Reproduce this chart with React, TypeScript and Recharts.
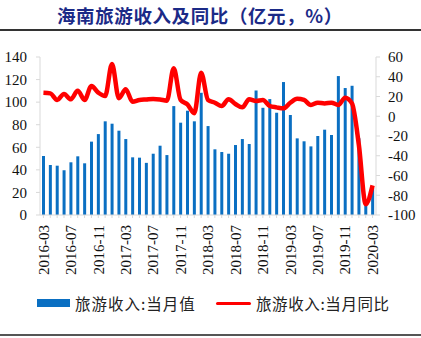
import React from 'react';
import { ComposedChart, Bar, Line, XAxis, YAxis } from 'recharts';

const months = [
  '2016-03', '2016-04', '2016-05', '2016-06', '2016-07', '2016-08', '2016-09', '2016-10', '2016-11', '2016-12',
  '2017-01', '2017-02', '2017-03', '2017-04', '2017-05', '2017-06', '2017-07', '2017-08', '2017-09', '2017-10',
  '2017-11', '2017-12', '2018-01', '2018-02', '2018-03', '2018-04', '2018-05', '2018-06', '2018-07', '2018-08',
  '2018-09', '2018-10', '2018-11', '2018-12', '2019-01', '2019-02', '2019-03', '2019-04', '2019-05', '2019-06',
  '2019-07', '2019-08', '2019-09', '2019-10', '2019-11', '2019-12', '2020-01', '2020-02', '2020-03',
];

// 旅游收入：当月值（亿元）
const revenue = [
  52.3, 44.3, 43.7, 39.6, 46.7, 52.0, 45.8, 65.0, 71.7, 83.0,
  80.9, 74.7, 67.3, 51.1, 50.8, 46.2, 54.3, 61.4, 53.1, 96.5,
  81.8, 92.4, 83.0, 108.3, 78.8, 58.2, 55.8, 54.3, 62.0, 67.3,
  62.9, 110.3, 95.0, 102.7, 90.6, 117.8, 88.6, 67.9, 65.3, 60.8,
  70.0, 75.6, 70.9, 123.1, 112.5, 114.5, 68.0, 12.0, 24.0,
];

// 旅游收入：当月同比（%）
const yoy = [
  23.9, 23.2, 16.5, 22.5, 17.2, 25.9, 16.5, 30.6, 23.9, 20.5,
  52.9, 18.2, 27.3, 14.7, 16.5, 17.0, 17.5, 17.0, 15.8, 48.5,
  16.5, 12.0, 3.0, 44.1, 16.5, 13.7, 10.4, 17.2, 12.4, 9.0,
  17.2, 15.5, 16.5, 10.4, 9.0, 8.0, 13.7, 17.8, 16.5, 11.4,
  13.7, 13.0, 13.7, 11.4, 18.8, 13.0, -29.0, -89.0, -70.0,
];

const leftTicks = [0, 20, 40, 60, 80, 100, 120, 140];
const rightTicks = [-100, -80, -60, -40, -20, 0, 20, 40, 60];

const data = months.map((m, i) => ({ month: m, revenue: revenue[i], yoy: yoy[i] }));

const serif = '"Liberation Serif", "Times New Roman", serif';
const cjk = '"Noto Sans CJK SC", sans-serif';

const MonthTick = (props: any) => {
  const { x, y, payload } = props;
  const idx = months.indexOf(payload.value);
  if (idx % 4 !== 0) return null;
  return (
    <text
      transform={`translate(${x},${y + 5}) rotate(-90)`}
      textAnchor="end"
      dy="0.35em"
      fontSize={15}
      fontFamily={serif}
      fill="#111"
    >
      {payload.value}
    </text>
  );
};

export default function App() {
  return (
    <div style={{ position: 'absolute', left: 0, top: 0, width: 421, height: 338, background: '#fff' }}>
      <div
        style={{
          position: 'absolute',
          left: 57,
          top: 3,
          whiteSpace: 'nowrap',
          fontFamily: cjk,
          fontWeight: 'bold',
          fontSize: 18.5,
          letterSpacing: 0.6,
          color: '#1b2a87',
          lineHeight: '24px',
        }}
      >
        海南旅游收入及同比（亿元，%）
      </div>
      <div style={{ position: 'absolute', left: 0, top: 29, width: 421, height: 1.5, background: '#333' }} />

      <div style={{ position: 'absolute', left: 0, top: 0 }}>
        <ComposedChart width={421} height={338} data={data} margin={{ top: 57, right: 0, bottom: 53, left: 0 }}>
          <XAxis
            dataKey="month"
            interval={0}
            height={70}
            tick={<MonthTick />}
            tickSize={3}
            tickLine={{ stroke: '#d9d9d9' }}
            axisLine={{ stroke: '#d9d9d9' }}
          />
          <YAxis
            yAxisId="left"
            domain={[0, 140]}
            ticks={leftTicks}
            interval={0}
            width={40}
            tickSize={4}
            tickMargin={9}
            tickLine={{ stroke: '#d9d9d9' }}
            axisLine={{ stroke: '#d9d9d9' }}
            tick={{ fontSize: 15, fontFamily: serif, fill: '#111' }}
          />
          <YAxis
            yAxisId="right"
            orientation="right"
            domain={[-100, 60]}
            ticks={rightTicks}
            interval={0}
            width={45}
            tickSize={4}
            tickMargin={8}
            tickLine={{ stroke: '#d9d9d9' }}
            axisLine={{ stroke: '#d9d9d9' }}
            tick={{ fontSize: 15, fontFamily: serif, fill: '#111' }}
          />
          <Bar yAxisId="left" dataKey="revenue" fill="#0a6fc2" barSize={3} isAnimationActive={false} />
          <Line
            yAxisId="right"
            type="monotone"
            dataKey="yoy"
            stroke="#ff0000"
            strokeWidth={4.5}
            dot={false}
            isAnimationActive={false}
          />
        </ComposedChart>
      </div>

      {/* legend */}
      <div style={{ position: 'absolute', left: 37, top: 299, width: 33, height: 8, background: '#0a6fc2' }} />
      <div
        style={{
          position: 'absolute', left: 75, top: 293, fontFamily: cjk, fontSize: 15.5,
          letterSpacing: 1, lineHeight: '20px', color: '#222', whiteSpace: 'nowrap',
        }}
      >
        旅游收入:当月值
      </div>
      <div style={{ position: 'absolute', left: 216, top: 301.5, width: 35, height: 3.5, background: '#ff0000', borderRadius: 2 }} />
      <div
        style={{
          position: 'absolute', left: 256, top: 293, fontFamily: cjk, fontSize: 15.5,
          letterSpacing: 0.6, lineHeight: '20px', color: '#222', whiteSpace: 'nowrap',
        }}
      >
        旅游收入:当月同比
      </div>
      <div style={{ position: 'absolute', left: 0, top: 334, width: 421, height: 2, background: '#555' }} />
    </div>
  );
}
